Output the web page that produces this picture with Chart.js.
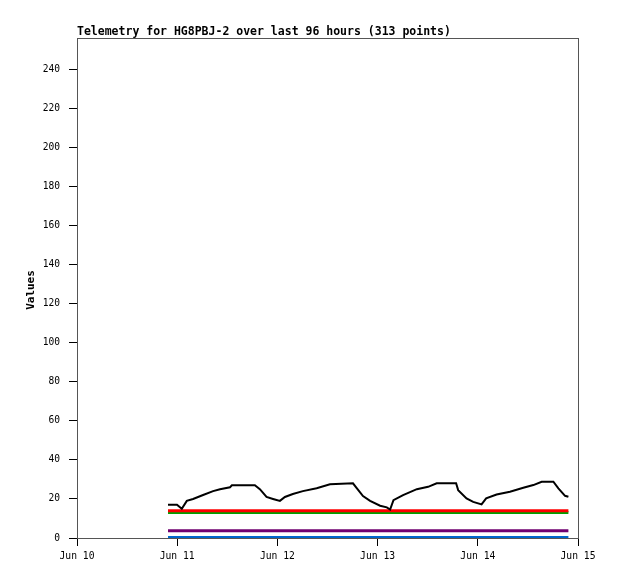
<!DOCTYPE html>
<html>
<head>
<meta charset="utf-8">
<script src="https://cdn.jsdelivr.net/npm/chart.js@4"></script>
<style>
  html, body { margin: 0; padding: 0; background: #fff; }
  #wrap { width: 618px; height: 579px; }
</style>
</head>
<body>
<div id="wrap"><canvas id="myChart" width="618" height="579"></canvas></div>
<script>
const ctx = document.querySelector("#myChart")

// hours since Jun 10 00:00
const tickHours = [0, 24, 48, 72, 96, 120];
const tickLabels = ["Jun 10", "Jun 11", "Jun 12", "Jun 13", "Jun 14", "Jun 15"];

const blackHours = [21.8, 23.95, 25.1, 26.3, 27.8, 30.2, 32.6, 34.25, 36.65, 37.1, 42.6, 43.8, 45.4, 46.95,
  48.6, 49.8, 51.7, 54.1, 57.4, 60.6, 66.1, 67.0, 68.5, 70.2, 72.6, 74.2, 75.0, 75.8, 78.1, 81.4, 84.1,
  86.15, 90.8, 91.3, 93.3, 94.9, 96.9, 98.0, 100.5, 103.7, 106.9, 109.3, 111.3, 114.1, 115.3, 116.9, 117.7];
const blackValues = [17, 17, 15, 19, 20, 22, 24, 25, 26, 27, 27, 25, 21, 20,
  19, 21, 22.5, 24, 25.5, 27.5, 28, 25.5, 21.5, 19, 16.5, 15.7, 14.6, 19.4, 22, 25, 26.2,
  28, 28, 24.5, 20.3, 18.5, 17.2, 20.3, 22.3, 23.7, 25.7, 27.1, 28.8, 28.8, 25.4, 21.6, 21.1];

const flatHours = [21.8, 117.7];
const redValues = [14, 14];
const greenValues = [13, 13];
const purpleValues = [3.7, 3.7];
const blueValues = [0.2, 0.2];

const toPoints = (xs, ys) => xs.map((x, i) => ({x: x, y: ys[i]}));

const mono = "'DejaVu Sans Mono', 'Liberation Mono', monospace";

const frame = {
  id: 'frame',
  beforeDatasetsDraw(chart) {
    const a = chart.chartArea;
    const c = chart.ctx;
    c.save();
    c.strokeStyle = '#555';
    c.lineWidth = 1;
    c.strokeRect(a.left + 0.5, a.top + 0.5, a.right - a.left, a.bottom - a.top);
    c.restore();
  },
  afterDraw(chart) {
    const a = chart.chartArea;
    const c = chart.ctx;
    c.save();
    c.fillStyle = '#000';
    c.font = "bold 11.5px " + mono;
    c.textBaseline = 'bottom';
    c.fillText("Telemetry for HG8PBJ-2 over last 96 hours (313 points)", a.left, a.top);
    // y axis title
    c.font = "bold 11px " + mono;
    c.translate(31, 290);
    c.rotate(-Math.PI / 2);
    c.textAlign = 'center';
    c.textBaseline = 'middle';
    c.fillText("Values", 0, 0);
    c.restore();
  }
};

const line = (xs, ys, color, width) => ({
  data: toPoints(xs, ys),
  borderColor: color,
  borderWidth: width,
  pointRadius: 0,
  fill: false,
  tension: 0,
});

const data = {
  datasets: [
    line(blackHours, blackValues, '#000000', 2),
    line(flatHours, redValues, '#ff0000', 3),
    line(flatHours, greenValues, '#00a000', 3),
    line(flatHours, purpleValues, '#700070', 3),
    line(flatHours, blueValues, '#0066cc', 3),
  ]
};

const config = {
  type: 'line',
  data: data,
  plugins: [frame],
  options: {
    responsive: false,
    animation: false,
    layout: { padding: { top: 38, right: 40, left: 0, bottom: 0 } },
    plugins: { legend: { display: false }, tooltip: { enabled: false } },
    scales: {
      x: {
        type: 'linear',
        min: 0,
        max: 120,
        afterFit(scale) { scale.height = 41; },
        afterBuildTicks(scale) { scale.ticks = tickHours.map(v => ({value: v})); },
        ticks: {
          color: '#000',
          font: { family: mono, size: 9.7 },
          padding: 5,
          maxRotation: 0,
          callback: (v) => tickLabels[tickHours.indexOf(v)],
        },
        grid: { drawOnChartArea: false, drawTicks: true, tickLength: 8, color: '#000' },
        border: { display: true, color: '#000' },
      },
      y: {
        min: 0,
        max: 256,
        afterFit(scale) { scale.width = 77; },
        afterBuildTicks(scale) { scale.ticks = scale.ticks.filter(t => t.value % 20 === 0); },
        ticks: {
          stepSize: 20,
          color: '#000',
          font: { family: mono, size: 9.6 },
          padding: 9,
        },
        grid: { drawOnChartArea: false, drawTicks: true, tickLength: 8, color: '#000' },
        border: { display: true, color: '#000' },
      },
    },
  },
};

new Chart(ctx, config)
</script>
</body>
</html>
